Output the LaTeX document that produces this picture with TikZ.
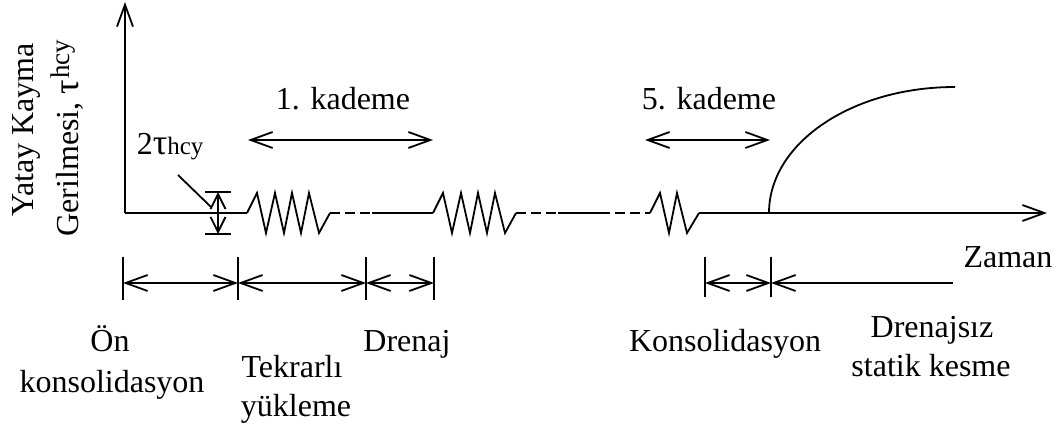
\documentclass[tikz,border=0pt]{standalone}
\usepackage{fontspec}
\setmainfont{Liberation Serif}
\usetikzlibrary{arrows.meta}
\begin{document}
\begin{tikzpicture}[x=1pt,y=-1pt, line width=1.8pt,
  txt/.style={font=\fontsize{32}{38}\selectfont, inner sep=0pt, anchor=base},
  ar/.style={-{Straight Barb[length=22pt,width=16pt]}},
  dar/.style={{Straight Barb[length=22pt,width=16pt]}-{Straight Barb[length=22pt,width=16pt]}},
  lar/.style={{Straight Barb[length=22pt,width=16pt]}-},
  sar/.style={{Straight Barb[length=15pt,width=15pt]}-{Straight Barb[length=15pt,width=15pt]}},
  dsh/.style={dash pattern=on 10pt off 5pt}]
\useasboundingbox (0,0) rectangle (1061,430);
% axes
\coordinate (O) at (125,213);
\coordinate (Ytop) at (125,2);
\coordinate (Xend) at (1047,213);
\coordinate (z1) at (247,213);
\coordinate (z2) at (433,213);
\coordinate (z3) at (650,213);
\coordinate (s1) at (372,213);
\coordinate (s2a) at (558,213);
\coordinate (s2b) at (600,213);
\draw[ar] (O) -- (Ytop);
\draw (O) -- (z1);
% zigzags
\draw (z1) -- ++(10,-20) -- ++(9,40) -- ++(9,-40) -- ++(9,40) -- ++(8,-40) -- ++(9,40) -- ++(8,-40) -- ++(10,40) -- ++(11,-20) coordinate (z1e);
\draw (z2) -- ++(10,-20) -- ++(9,40) -- ++(9,-40) -- ++(9,40) -- ++(8,-40) -- ++(9,40) -- ++(8,-40) -- ++(10,40) -- ++(11,-20) coordinate (z2e);
\draw (z3) -- ++(10,-20) -- ++(9,40) -- ++(8,-40) -- ++(10,40) -- ++(12,-20) coordinate (z3e);
\draw[dsh] (z1e) -- (s1);
\draw (s1) -- (z2);
\draw[dsh] (z2e) -- (s2a);
\draw (s2a) -- (s2b);
\draw[dsh] (s2b) -- (z3);
\draw[ar] (z3e) -- (Xend);
% static shear curve
\coordinate (c0) at (769,213);
\coordinate (c1) at (955,87);
\draw (c0) .. controls (769,143) and (852,87) .. (c1);
% 2 tau dimension
\coordinate (t1) at (218,192);
\coordinate (t2) at (218,234);
\draw (205,192) -- (231,192);
\draw (205,234) -- (231,234);
\draw[sar] (t1) -- (t2);
\coordinate (l1) at (178,175);
\coordinate (l2) at (211,207);
\draw (l1) -- (l2);
\node[txt, anchor=base west] (tau) at (136,155) {2{\fontsize{36}{38}\selectfont τ}{\fontsize{25}{28}\selectfont hcy}};
% kademe arrows
\coordinate (k1a) at (248,140); \coordinate (k1b) at (433,140);
\coordinate (k5a) at (645,140); \coordinate (k5b) at (770,140);
\draw[dar] (k1a) -- (k1b);
\draw[dar] (k5a) -- (k5b);
\node[txt] (k1) at (343,110) {1. kademe};
\node[txt] (k5) at (709,110) {5. kademe};
% bottom dimension lines
\foreach \x in {123,238,366,434} {\draw (\x,257) -- (\x,300);}
\foreach \x in {705,771} {\draw (\x,257) -- (\x,297);}
\coordinate (b1) at (123,283); \coordinate (b2) at (238,283);
\coordinate (b3) at (366,283); \coordinate (b4) at (434,283);
\coordinate (b5) at (705,283); \coordinate (b6) at (771,283);
\coordinate (b7) at (953,283);
\draw[dar] (b1) -- (b2);
\draw[dar] (b2) -- (b3);
\draw[dar] (b3) -- (b4);
\draw[dar] (b5) -- (b6);
\draw[lar] (b6) -- (b7);
% labels
\node[txt] (zaman) at (1008,268) {Zaman};
\node[txt] (on1) at (110,352) {Ön};
\node[txt] (on2) at (112,392) {konsolidasyon};
\node[txt] (tek1) at (292,378) {Tekrarlı};
\node[txt] (tek2) at (296,417) {yükleme};
\node[txt] (dre) at (407,352) {Drenaj};
\node[txt] (kons) at (725,352) {Konsolidasyon};
\node[txt] (ds1) at (932,338) {Drenajsız};
\node[txt] (ds2) at (931,377) {statik kesme};
\node[txt, rotate=90] (yl1) at (34,130) {Yatay Kayma};
\node[txt, rotate=90] (yl2) at (78,138) {Gerilmesi, {\fontsize{36}{38}\selectfont τ}\kern1pt\raisebox{9pt}{\fontsize{27}{28}\selectfont hcy}};
\end{tikzpicture}
\end{document}
